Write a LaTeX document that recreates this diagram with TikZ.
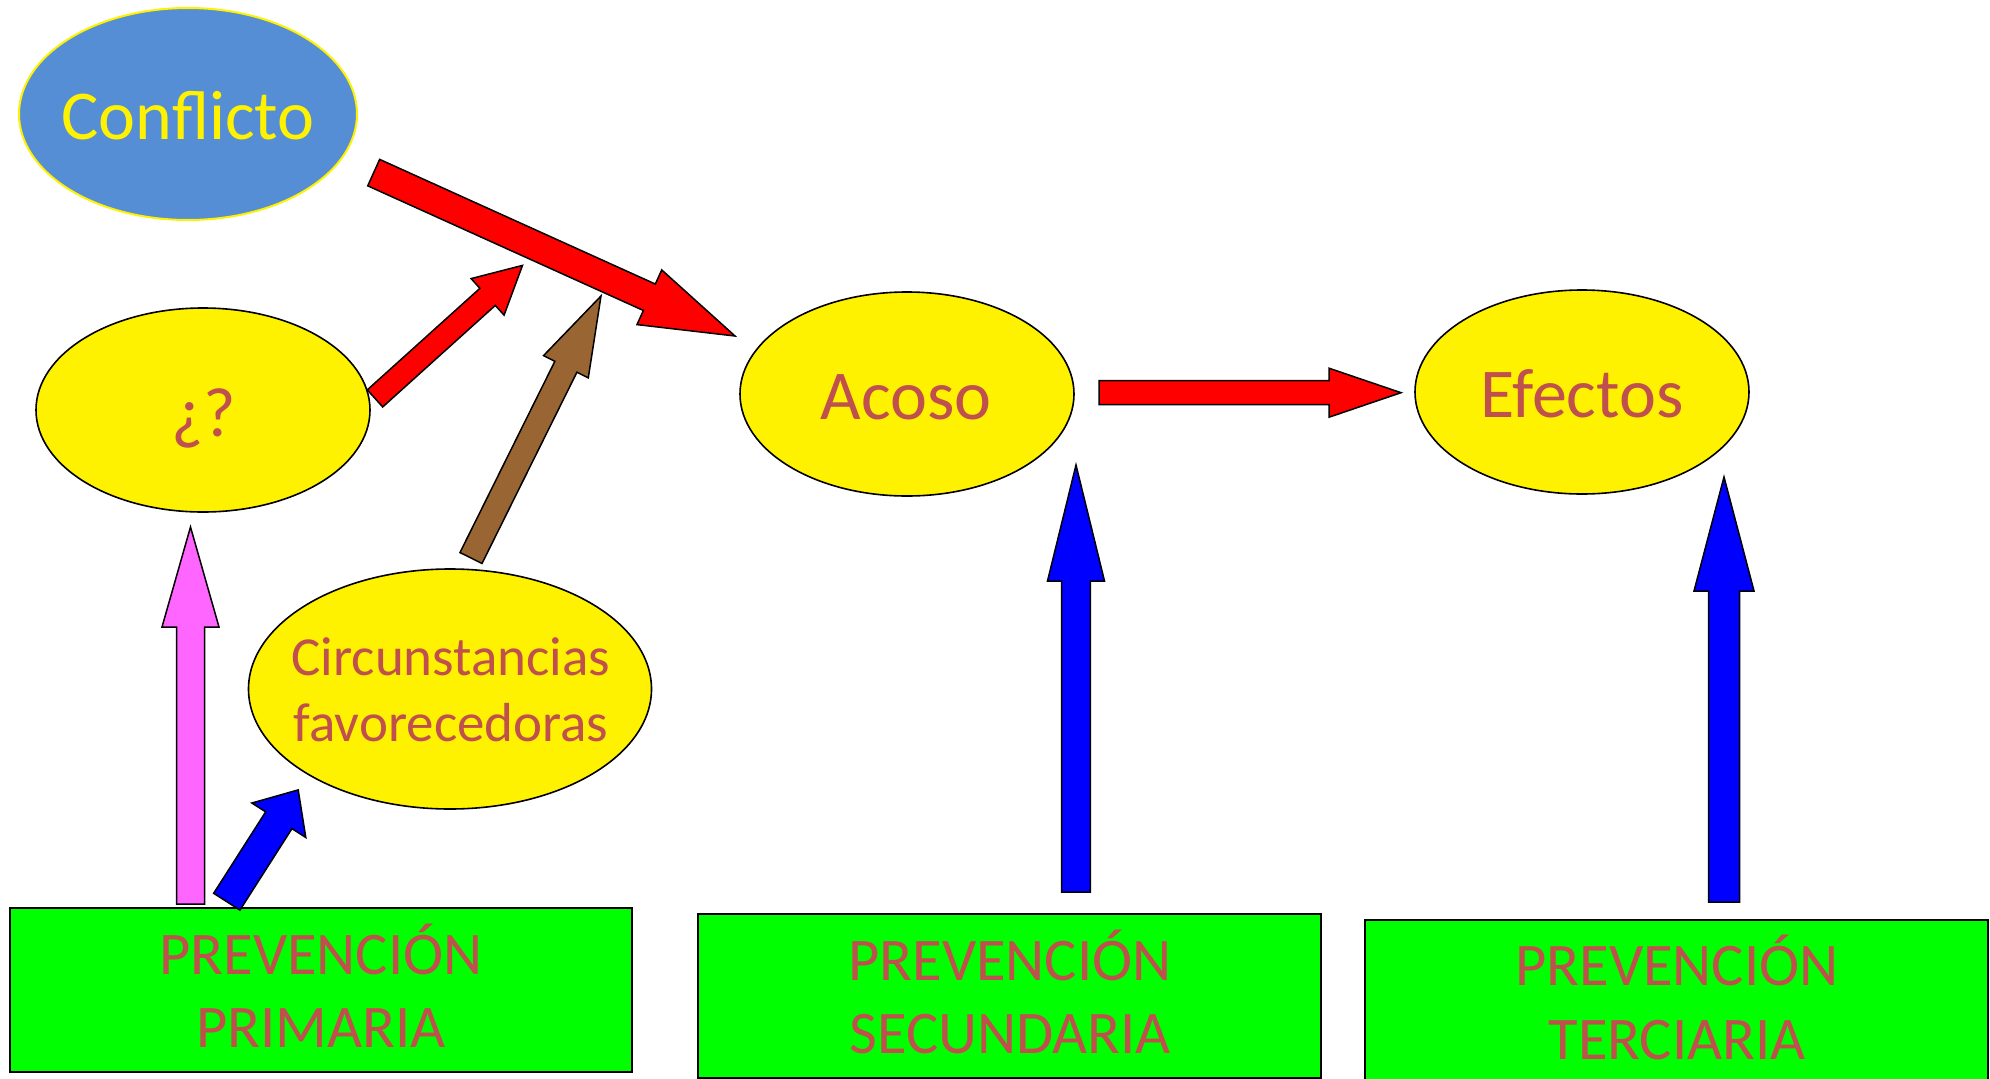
\documentclass[tikz,border=0pt]{standalone}
\usepackage{fontspec}
\setmainfont{Carlito}
\usetikzlibrary{shapes.geometric,calc}
\definecolor{confblue}{HTML}{558ED5}
\definecolor{txtred}{HTML}{C0504D}
\definecolor{brownar}{HTML}{996633}
\definecolor{pinkar}{HTML}{FF66FF}
\definecolor{boxgreen}{HTML}{00FF00}
\newcommand\blockarrow[6]{%
  \path ($(#3)!#6!(#2)$) coordinate (bah);
  \draw[arrowline, fill=#1] ($(#2)!#4!90:(#3)$) -- ($(bah)!#4!90:(#3)$) -- ($(bah)!#5!90:(#3)$) -- (#3)
    -- ($(bah)!#5!-90:(#3)$) -- ($(bah)!#4!-90:(#3)$) -- ($(#2)!#4!-90:(#3)$) -- cycle;
}
\tikzset{
  oval/.style={ellipse, draw=black, line width=1.6pt, fill=yellow, inner sep=0pt},
  prevbox/.style={rectangle, draw=black, line width=1.8pt, fill=boxgreen, inner sep=0pt},
  arrowline/.style={draw=black, line width=1.5pt, line join=miter},
  bigtxt/.style={anchor=base, inner sep=0pt, text=txtred, font=\fontsize{70}{84}\selectfont},
  midtxt/.style={anchor=base, inner sep=0pt, text=txtred, font=\fontsize{55}{66}\selectfont},
  boxtxt/.style={anchor=base, inner sep=0pt, text=txtred, font=\fontsize{60.5}{73}\selectfont},
}
\begin{document}
\begin{tikzpicture}[x=1pt, y=-1pt]
\useasboundingbox (0,0) rectangle (1990,1079);
\clip (0,0) rectangle (1990,1079);
% ellipses
\node[ellipse, draw=yellow, line width=2pt, fill=confblue, inner sep=0pt, minimum width=338pt, minimum height=212pt] (conf) at (188,114) {};
\node[oval, minimum width=334pt, minimum height=204pt] (q) at (203,410) {};
\node[oval, minimum width=334pt, minimum height=204pt] (acoso) at (907,394) {};
\node[oval, minimum width=334pt, minimum height=204pt] (efectos) at (1582,392) {};
\node[oval, minimum width=403pt, minimum height=240pt] (circ) at (450,689) {};
% boxes
\node[prevbox, minimum width=622pt, minimum height=164pt] (p1) at (321,990) {};
\node[prevbox, minimum width=623pt, minimum height=164pt] (p2) at (1009.5,996) {};
\node[prevbox, minimum width=623pt, minimum height=166pt] (p3) at (1676.5,1003) {};
% texts
\node[bigtxt, text=yellow] (tconf) at (188,139) {Conflicto};
\node[bigtxt] (tq) at (204,436) {¿?};
\node[bigtxt] (tacoso) at (906,419) {Acoso};
\node[bigtxt] (tefectos) at (1582,417) {Efectos};
\node[midtxt] (tcirc1) at (451,675) {Circunstancias};
\node[midtxt] (tcirc2) at (451,741) {favorecedoras};
\node[boxtxt] (tp1a) at (321,974.5) {PREVENCIÓN};
\node[boxtxt] (tp1b) at (321,1047.5) {PRIMARIA};
\node[boxtxt] (tp2a) at (1010,980) {PREVENCIÓN};
\node[boxtxt] (tp2b) at (1010,1053) {SECUNDARIA};
\node[boxtxt] (tp3a) at (1677,985) {PREVENCIÓN};
\node[boxtxt] (tp3b) at (1677,1059) {TERCIARIA};
% arrow end points
\coordinate (a1t) at (373.7,172.6); \coordinate (a1h) at (735,336);
\coordinate (a2t) at (375,398.4);   \coordinate (a2h) at (522.5,265.4);
\coordinate (a3t) at (471,558);     \coordinate (a3h) at (601,296);
\coordinate (a4t) at (1099,392.7);  \coordinate (a4h) at (1401,392.7);
\coordinate (a5t) at (190.5,904);   \coordinate (a5h) at (190.5,527);
\coordinate (a6t) at (226.8,901.7); \coordinate (a6h) at (298.2,789.9);
\coordinate (a7t) at (1076,892);    \coordinate (a7h) at (1076,465);
\coordinate (a8t) at (1724,902);    \coordinate (a8h) at (1724,477);
% block arrows
\blockarrow{red}{a1t}{a1h}{14.5pt}{30pt}{94pt}
\blockarrow{red}{a2t}{a2h}{11.5pt}{24.6pt}{47pt}
\blockarrow{brownar}{a3t}{a3h}{12.3pt}{25pt}{79pt}
\blockarrow{red}{a4t}{a4h}{12pt}{24.5pt}{72pt}
\blockarrow{pinkar}{a5t}{a5h}{14pt}{28.5pt}{100pt}
\blockarrow{blue}{a6t}{a6h}{15.6pt}{32pt}{36pt}
\blockarrow{blue}{a7t}{a7h}{14.3pt}{28.5pt}{116pt}
\blockarrow{blue}{a8t}{a8h}{15.5pt}{30pt}{114pt}
\end{tikzpicture}
\end{document}
